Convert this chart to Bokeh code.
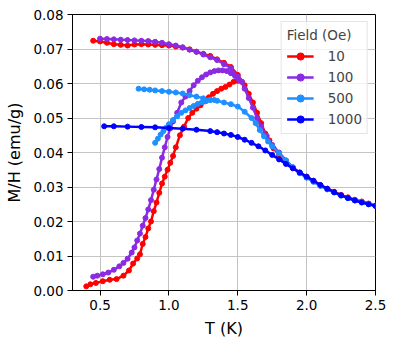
from bokeh.plotting import figure
from bokeh.models import FixedTicker, Legend, LegendItem, Range1d
from bokeh.embed import file_html
from bokeh.resources import INLINE

# ---------------- data ----------------
x_ticks = [0.5, 1.0, 1.5, 2.0, 2.5]
x_tick_labels = ["0.5", "1.0", "1.5", "2.0", "2.5"]
y_ticks = [0.00, 0.01, 0.02, 0.03, 0.04, 0.05, 0.06, 0.07, 0.08]
y_tick_labels = ["0.00", "0.01", "0.02", "0.03", "0.04", "0.05", "0.06", "0.07", "0.08"]

fields = ["10", "100", "500", "1000"]
legend_title = "Field (Oe)"
x_label = "T (K)"
y_label = "M/H (emu/g)"

# 10 Oe
t10_zfc = [0.40, 0.43, 0.47, 0.52, 0.57, 0.62, 0.67, 0.71, 0.74, 0.77, 0.79, 0.81, 0.83, 0.85,
           0.87, 0.89, 0.91, 0.93, 0.95, 0.97, 0.99, 1.01, 1.03, 1.05, 1.08, 1.11, 1.14, 1.17,
           1.20, 1.23, 1.26, 1.29, 1.32, 1.35, 1.38, 1.41, 1.44, 1.47, 1.50, 1.53]
m10_zfc = [0.0012, 0.0018, 0.0022, 0.0027, 0.0031, 0.0033, 0.0043, 0.0058, 0.0078, 0.0093, 0.0105,
           0.0135, 0.0155, 0.0180, 0.0200, 0.0230, 0.0255, 0.0283, 0.0310, 0.0330, 0.0350, 0.0370,
           0.0390, 0.0415, 0.0450, 0.0475, 0.0500, 0.0515, 0.0527, 0.0537, 0.0548, 0.0560, 0.0570,
           0.0578, 0.0585, 0.0590, 0.0597, 0.0605, 0.0608, 0.0605]
t10_fc = [0.45, 0.50, 0.55, 0.60, 0.65, 0.70, 0.75, 0.80, 0.85, 0.90, 0.95, 1.00, 1.05, 1.10,
          1.15, 1.20, 1.25, 1.30, 1.35, 1.40, 1.45, 1.50, 1.55, 1.58, 1.61, 1.64, 1.67, 1.70,
          1.73, 1.76, 1.80, 1.85, 1.90, 1.95, 2.00, 2.05, 2.10, 2.15, 2.20, 2.25, 2.30, 2.35,
          2.40, 2.45, 2.50]
m10_fc = [0.0724, 0.0722, 0.0718, 0.0714, 0.0712, 0.0710, 0.0713, 0.0714, 0.0713, 0.0712, 0.0711,
          0.0710, 0.0707, 0.0704, 0.0699, 0.0692, 0.0686, 0.0680, 0.0670, 0.0660, 0.0648, 0.0625,
          0.0595, 0.0570, 0.0545, 0.0515, 0.0485, 0.0455, 0.0435, 0.0412, 0.0393, 0.0372, 0.0355,
          0.0342, 0.0330, 0.0318, 0.0305, 0.0295, 0.0286, 0.0277, 0.0270, 0.0263, 0.0258, 0.0252,
          0.0246]

# 100 Oe
t100_zfc = [0.45, 0.48, 0.52, 0.56, 0.60, 0.64, 0.67, 0.70, 0.73, 0.75, 0.77, 0.79, 0.81, 0.83,
            0.85, 0.87, 0.89, 0.91, 0.93, 0.95, 0.97, 0.99, 1.01, 1.03, 1.06, 1.09, 1.12, 1.15,
            1.18, 1.21, 1.24, 1.27, 1.30, 1.33, 1.36, 1.39, 1.42, 1.45, 1.48, 1.51]
m100_zfc = [0.0040, 0.0043, 0.0047, 0.0052, 0.0060, 0.0070, 0.0080, 0.0092, 0.0110, 0.0125, 0.0145,
            0.0165, 0.0188, 0.0210, 0.0235, 0.0262, 0.0292, 0.0322, 0.0352, 0.0385, 0.0415, 0.0445,
            0.0470, 0.0490, 0.0515, 0.0545, 0.0562, 0.0578, 0.0595, 0.0608, 0.0618, 0.0626, 0.0632,
            0.0636, 0.0638, 0.0638, 0.0636, 0.0630, 0.0622, 0.0610]
t100_fc = [0.50, 0.55, 0.60, 0.65, 0.70, 0.75, 0.80, 0.85, 0.90, 0.95, 1.00, 1.05, 1.10, 1.15,
           1.20, 1.25, 1.30, 1.35, 1.40, 1.45, 1.50, 1.53, 1.55, 1.58, 1.61, 1.64, 1.67, 1.71,
           1.75, 1.80, 1.85, 1.90, 1.95, 2.00, 2.05, 2.10, 2.15, 2.20, 2.25, 2.30, 2.35, 2.40,
           2.45, 2.50]
m100_fc = [0.0730, 0.0729, 0.0728, 0.0727, 0.0726, 0.0725, 0.0724, 0.0723, 0.0721, 0.0718, 0.0714,
           0.0710, 0.0705, 0.0698, 0.0692, 0.0684, 0.0676, 0.0668, 0.0656, 0.0645, 0.0620, 0.0605,
           0.0585, 0.0558, 0.0530, 0.0500, 0.0475, 0.0448, 0.0422, 0.0400, 0.0377, 0.0357, 0.0341,
           0.0328, 0.0316, 0.0304, 0.0294, 0.0285, 0.0276, 0.0268, 0.0262, 0.0257, 0.0251, 0.0246]

# 500 Oe
t500_zfc = [0.90, 0.92, 0.94, 0.96, 0.98, 1.00, 1.03, 1.06, 1.09, 1.12, 1.15, 1.18, 1.21, 1.24,
            1.27, 1.30, 1.33]
m500_zfc = [0.0428, 0.0440, 0.0452, 0.0462, 0.0472, 0.0482, 0.0494, 0.0505, 0.0515, 0.0522, 0.0529,
            0.0535, 0.0541, 0.0546, 0.0549, 0.0552, 0.0552]
t500_fc = [0.78, 0.82, 0.86, 0.90, 0.95, 1.00, 1.05, 1.10, 1.15, 1.20, 1.25, 1.30, 1.35, 1.40,
           1.45, 1.50, 1.55, 1.60, 1.63, 1.66, 1.69, 1.72, 1.75, 1.80, 1.85, 1.90, 1.95, 2.00,
           2.05, 2.10, 2.15, 2.20, 2.25, 2.30, 2.35, 2.40, 2.45, 2.50]
m500_fc = [0.0585, 0.0583, 0.0582, 0.0580, 0.0578, 0.0576, 0.0574, 0.0571, 0.0566, 0.0562, 0.0557,
           0.0553, 0.0550, 0.0545, 0.0540, 0.0533, 0.0518, 0.0500, 0.0485, 0.0465, 0.0447, 0.0432,
           0.0418, 0.0398, 0.0377, 0.0357, 0.0340, 0.0327, 0.0315, 0.0303, 0.0293, 0.0284, 0.0275,
           0.0268, 0.0261, 0.0256, 0.0250, 0.0246]

# 1000 Oe
t1000 = [0.53, 0.60, 0.70, 0.80, 0.90, 1.00, 1.10, 1.20, 1.30, 1.35, 1.40, 1.45, 1.50, 1.55,
         1.60, 1.65, 1.70, 1.75, 1.80, 1.85, 1.90, 1.95, 2.00, 2.05, 2.10, 2.15, 2.20, 2.25,
         2.30, 2.35, 2.40, 2.45, 2.50]
m1000 = [0.0476, 0.0476, 0.0475, 0.0474, 0.0473, 0.0471, 0.0469, 0.0466, 0.0462, 0.0459, 0.0455,
         0.0451, 0.0445, 0.0437, 0.0428, 0.0418, 0.0406, 0.0393, 0.0380, 0.0367, 0.0354, 0.0342,
         0.0330, 0.0318, 0.0306, 0.0295, 0.0285, 0.0276, 0.0268, 0.0261, 0.0255, 0.0250, 0.0245]

series = [
    (fields[0], "#ff0000", [(t10_zfc, m10_zfc), (t10_fc, m10_fc)]),
    (fields[1], "#8a2be2", [(t100_zfc, m100_zfc), (t100_fc, m100_fc)]),
    (fields[2], "#1e90ff", [(t500_zfc, m500_zfc), (t500_fc, m500_fc)]),
    (fields[3], "#0000ff", [(t1000, m1000)]),
]

FONT = "DejaVu Sans"

p = figure(width=393, height=342, output_backend="svg", toolbar_location=None,
           x_range=Range1d(0.3, 2.5), y_range=Range1d(0.0, 0.08),
           min_border_left=72, min_border_right=18, min_border_top=14, min_border_bottom=52)

p.background_fill_color = "white"
p.border_fill_color = "white"
p.outline_line_color = "black"
p.outline_line_width = 1

p.xgrid.grid_line_color = "#c4c4c4"
p.ygrid.grid_line_color = "#c4c4c4"
p.xgrid.grid_line_width = 1
p.ygrid.grid_line_width = 1

p.xaxis.ticker = FixedTicker(ticks=x_ticks)
p.yaxis.ticker = FixedTicker(ticks=y_ticks)
p.xaxis.major_label_overrides = {t: l for t, l in zip(x_ticks, x_tick_labels)}
p.yaxis.major_label_overrides = {t: l for t, l in zip(y_ticks, y_tick_labels)}

for ax in (p.xaxis[0], p.yaxis[0]):
    ax.axis_line_color = "black"
    ax.major_tick_line_color = "black"
    ax.major_tick_out = 5
    ax.major_tick_in = 0
    ax.minor_tick_line_color = None
    ax.major_label_standoff = 4
    ax.major_label_text_font = FONT
    ax.major_label_text_font_size = "13.5px"
    ax.major_label_text_color = "black"
    ax.axis_label_text_font = FONT
    ax.axis_label_text_font_size = "16px"
    ax.axis_label_text_font_style = "normal"
    ax.axis_label_text_color = "black"
    ax.axis_label_standoff = 6

p.xaxis.axis_label = x_label
p.yaxis.axis_label = y_label

items = []
for label, color, parts in series:
    rends = []
    for (t, m) in parts:
        lr = p.line(t, m, line_color=color, line_width=2.5)
        sr = p.scatter(t, m, size=5, fill_color=color, line_color=color)
        if not rends:
            rends = [lr, sr]
    items.append(LegendItem(label=label, renderers=rends))

legend = Legend(items=items, title=legend_title, location="top_right")
legend.margin = 7
legend.padding = 5
legend.spacing = 3
legend.label_height = 18
legend.glyph_height = 18
legend.glyph_width = 27
legend.label_standoff = 14
legend.title_standoff = 4
legend.title_text_font = FONT
legend.title_text_font_size = "13.5px"
legend.title_text_font_style = "normal"
legend.label_text_font = FONT
legend.label_text_font_size = "13.5px"
legend.border_line_color = "#cccccc"
legend.border_line_width = 1
legend.background_fill_color = "white"
legend.background_fill_alpha = 0.8
p.add_layout(legend)

open("out.html", "w").write(file_html(p, INLINE))
